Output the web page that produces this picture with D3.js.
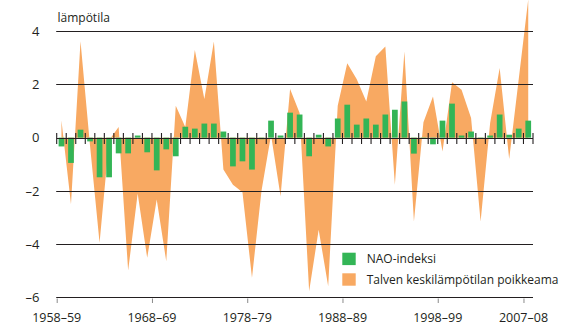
<!DOCTYPE html>
<html>
<head>
<meta charset="utf-8">
<script src="https://cdn.jsdelivr.net/npm/d3@7"></script>
<style>
  html, body { margin: 0; padding: 0; background: #fff; }
  svg { display: block; font-family: "Open Sans", "Noto Sans", sans-serif; }
</style>
</head>
<body>
<svg id="chart" width="575" height="330"></svg>
<script>
// Winters (start year of each winter season)
const winters = [1958,1959,1960,1961,1962,1963,1964,1965,1966,1967,
                 1968,1969,1970,1971,1972,1973,1974,1975,1976,1977,
                 1978,1979,1980,1981,1982,1983,1984,1985,1986,1987,
                 1988,1989,1990,1991,1992,1993,1994,1995,1996,1997,
                 1998,1999,2000,2001,2002,2003,2004,2005,2006,2007];

// Talven keskilämpötilan poikkeama (°C)
const tempAnomaly = [0.65,-2.5,3.63,-0.3,-3.95,-0.1,0.4,-5.0,-2.1,-4.52,
                     -2.33,-4.65,1.2,0.4,3.3,1.45,3.62,-1.2,-1.77,-2.05,
                     -5.27,-2.0,0.1,-2.2,1.83,0.93,-5.78,-3.46,-5.59,1.2,
                     2.8,2.2,1.36,3.06,3.43,-1.77,3.24,-3.15,0.58,1.55,
                     -0.52,2.08,1.8,0.74,-3.15,0.55,2.62,-0.8,2.2,5.2];

// NAO-indeksi
const naoIndex = [-0.33,-0.95,0.3,-0.14,-1.49,-1.49,-0.59,-0.59,0.08,-0.55,
                  -1.23,-0.44,-0.7,0.41,0.34,0.53,0.53,0.23,-1.08,-0.89,
                  -1.2,-0.06,0.64,0.08,0.94,0.87,-0.7,0.11,-0.33,0.72,
                  1.24,0.49,0.72,0.49,0.87,1.05,1.36,-0.6,-0.05,-0.25,
                  0.64,1.28,0.08,0.23,-0.05,0.08,0.87,0.11,0.34,0.64];

const xTickWinters = [1958,1968,1978,1988,1998,2007];
const xTickLabels = ["1958–59","1968–69","1978–79","1988–89","1998–99","2007–08"];
const yTicks = [4,2,0,-2,-4,-6];
const yTitle = "lämpötila";
const legendLabels = ["NAO-indeksi","Talven keskilämpötilan poikkeama"];

const data = winters.map((w,i) => ({w, t: tempAnomaly[i], n: naoIndex[i]}));

const green = "#33b556";
const orange = "#f8a962";
const ink = "#231f20";

const svg = d3.select("#chart");
const left = 56.7, right = 533;

const x = d3.scaleBand().domain(winters).range([left, right])
  .paddingInner(0.4).paddingOuter(0.2);
const step = x.step();
const slotStart = w => x(w) - x.paddingOuter() * step; // left edge of winter's slot
const cx = w => x(w) + x.bandwidth() / 2;

const y = d3.scaleLinear().domain([-6, 4]).range([297.2, 31.3]);

// Orange area
const area = d3.area()
  .x(d => cx(d.w))
  .y0(y(0))
  .y1(d => y(d.t));
svg.append("path").datum(data)
  .attr("d", area)
  .attr("fill", orange);

// Gridlines (drawn over the area)
svg.append("g").selectAll("line")
  .data(yTicks.filter(v => v !== 0))
  .join("line")
  .attr("x1", left - 0.5).attr("x2", right)
  .attr("y1", d => Math.round(y(d)) + 0.5).attr("y2", d => Math.round(y(d)) + 0.5)
  .attr("stroke", ink).attr("stroke-width", 1.1);

// NAO bars
svg.append("g").selectAll("rect")
  .data(data)
  .join("rect")
  .attr("x", d => x(d.w))
  .attr("width", x.bandwidth())
  .attr("y", d => Math.min(y(0), y(d.n)))
  .attr("height", d => Math.abs(y(d.n) - y(0)))
  .attr("fill", green);

// Zero line with slot ticks
const y0 = Math.round(y(0)) + 0.5;
svg.append("line")
  .attr("x1", left).attr("x2", right)
  .attr("y1", y0).attr("y2", y0)
  .attr("stroke", ink).attr("stroke-width", 1.1);
const boundaries = winters.map(w => slotStart(w)).concat([right]);
svg.append("g").selectAll("line")
  .data(boundaries)
  .join("line")
  .attr("x1", d => d).attr("x2", d => d)
  .attr("y1", y0 - 5.5).attr("y2", y0 + 5.5)
  .attr("stroke", ink).attr("stroke-width", 1.1);

// Y labels
svg.append("g").selectAll("text")
  .data(yTicks)
  .join("text")
  .attr("x", 39.5)
  .attr("y", d => y(d))
  .attr("dy", "0.36em")
  .attr("text-anchor", "end")
  .attr("font-size", 13)
  .attr("fill", ink)
  .text(d => d < 0 ? "–" + Math.abs(d) : String(d));

// Y title
svg.append("text")
  .attr("x", 57.5).attr("y", 21.5)
  .attr("font-size", 12)
  .attr("fill", ink)
  .text(yTitle);

// Bottom axis ticks and labels
const xb = svg.append("g");
xb.selectAll("line")
  .data(xTickWinters)
  .join("line")
  .attr("x1", d => slotStart(d) + 0.5).attr("x2", d => slotStart(d) + 0.5)
  .attr("y1", 298.5).attr("y2", 303)
  .attr("stroke", "#8a8a8a").attr("stroke-width", 1);
xb.selectAll("text")
  .data(xTickWinters)
  .join("text")
  .attr("x", d => slotStart(d))
  .attr("y", 321.5)
  .attr("text-anchor", "middle")
  .attr("font-size", 12.5)
  .attr("fill", ink)
  .text((d,i) => xTickLabels[i]);

// Legend
const lg = svg.append("g").attr("transform", "translate(342.3,252.7)");
[green, orange].forEach((c, i) => {
  lg.append("rect").attr("x", 0).attr("y", i * 20.6)
    .attr("width", 13.4).attr("height", 12.4).attr("fill", c);
  lg.append("text").attr("x", 24.4).attr("y", i * 20.6 + 6.2)
    .attr("dy", "0.36em")
    .attr("font-size", 12)
    .attr("fill", ink)
    .text(legendLabels[i]);
});
</script>
</body>
</html>
